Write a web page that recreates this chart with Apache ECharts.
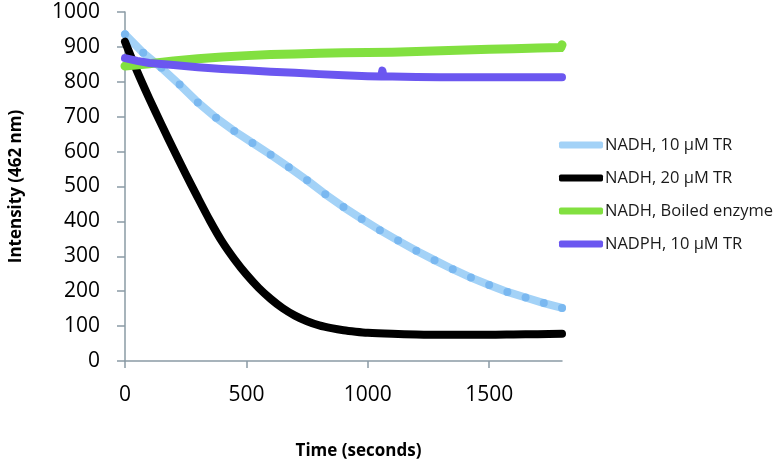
<!DOCTYPE html>
<html>
<head>
<meta charset="utf-8">
<script src="https://cdn.jsdelivr.net/npm/echarts@6/dist/echarts.min.js"></script>
<style>html,body{margin:0;padding:0;background:#fff}#c{width:784px;height:465px}</style>
</head>
<body>
<div id="c"></div>
<script>
// Series names
const seriesNames = ['NADH, 10 \u03bcM TR', 'NADH, 20 \u03bcM TR', 'NADH, Boiled enzyme', 'NADPH, 10 \u03bcM TR'];

// NADH, 10 uM TR (light blue) — time (s) and intensity
const tBlue = [0,75,150,225,300,375,450,525,600,675,750,825,900,975,1050,1125,1200,1275,1350,1425,1500,1575,1650,1725,1800];
const vBlue = [936,883,840,792,741,697,659,625,591,555,518,478,441,407,375,345,316,289,263,239,218,198,182,166,152];

// NADH, 20 uM TR (black)
const tBlack = [0,50,100,150,200,250,300,350,400,450,500,550,600,650,700,750,800,850,900,950,1000,1100,1200,1300,1400,1500,1600,1700,1800];
const vBlack = [915,830,752,678,606,536,468,402,342,292,248,210,178,151,130,114,102,94,88,84,81,78,76,75,75,75,76,77,78];

// NADH, Boiled enzyme (green)
const tGreen = [0,100,200,300,400,500,600,700,800,900,1000,1100,1200,1300,1400,1500,1600,1700,1795,1800];
const vGreen = [845,852,860,866,871,875,878,880,882,883,884,885,887,889,891,893,895,897,898,906];

// NADPH, 10 uM TR (purple)
const tPurple = [0,50,100,200,300,400,500,600,700,800,900,1000,1055,1060,1065,1100,1200,1300,1400,1500,1600,1700,1800];
const vPurple = [868,860,854,848,842,837,833,829,826,822,819,816,815,832,815,815,814,813,813,813,813,813,813];

// Axis ticks
const xTicks = [0, 500, 1000, 1500];

const colors = ['#A3D2F7', '#000000', '#82E040', '#6B57F0'];
const zip = (t, v) => t.map((x, i) => [x, v[i]]);

const chart = echarts.init(document.getElementById('c'), null, {renderer: 'canvas'});
const axisColor = '#8A9BA5';
chart.setOption({
  animation: false,
  backgroundColor: '#ffffff',
  textStyle: {fontFamily: 'Open Sans'},
  grid: {left: 124, right: 222, top: 12, bottom: 103, containLabel: false},
  xAxis: {
    type: 'value', min: 0, max: 1800, interval: 500,
    name: 'Time (seconds)', nameLocation: 'middle', nameGap: 82,
    nameTextStyle: {fontFamily: 'Open Sans', fontWeight: 'bold', fontSize: 17, color: '#000', padding: [0, 0, 0, 30]},
    axisLine: {show: true, lineStyle: {color: axisColor, width: 1.5}},
    axisTick: {show: true, length: 7, lineStyle: {color: axisColor, width: 1.5}, customValues: xTicks},
    axisLabel: {fontSize: 21, color: '#000', margin: 24, customValues: xTicks, fontFamily: 'Open Sans',
      formatter: v => String(v)},
    splitLine: {show: false}
  },
  yAxis: {
    type: 'value', min: 0, max: 1000, interval: 100,
    name: 'Intensity (462 nm)', nameLocation: 'middle', nameGap: 100, nameRotate: 90,
    nameTextStyle: {fontFamily: 'Open Sans', fontWeight: 'bold', fontSize: 17, color: '#000'},
    axisLine: {show: true, lineStyle: {color: axisColor, width: 1.5}},
    axisTick: {show: true, length: 8, lineStyle: {color: axisColor, width: 1.5}},
    axisLabel: {fontSize: 21, color: '#000', margin: 25, fontFamily: 'Open Sans', formatter: v => String(v)},
    splitLine: {show: false}
  },
  legend: {
    orient: 'vertical', left: 554, top: 131,
    icon: 'roundRect', itemWidth: 44, itemHeight: 7, itemGap: 15,
    textStyle: {fontSize: 16.5, color: '#1a1a1a', lineHeight: 18, fontFamily: 'Open Sans', padding: [0, 0, 0, -3]},
    data: seriesNames.map((n, i) => ({name: n, itemStyle: {color: colors[i]}}))
  },
  series: [
    {name: seriesNames[0], type: 'line', data: zip(tBlue, vBlue), showSymbol: true, symbol: 'circle', symbolSize: 8,
      itemStyle: {color: '#7AB8F0', borderWidth: 0}, lineStyle: {color: colors[0], width: 8, cap: 'round', join: 'round'}, z: 2},
    {name: seriesNames[1], type: 'line', data: zip(tBlack, vBlack), showSymbol: false, smooth: 0.25,
      itemStyle: {color: colors[1]}, lineStyle: {color: colors[1], width: 8, cap: 'round', join: 'round'}, z: 3},
    {name: seriesNames[2], type: 'line', data: zip(tGreen, vGreen), showSymbol: false,
      itemStyle: {color: colors[2]}, lineStyle: {color: colors[2], width: 9, cap: 'round', join: 'round'}, z: 4},
    {name: seriesNames[3], type: 'line', data: zip(tPurple, vPurple), showSymbol: false,
      itemStyle: {color: colors[3]}, lineStyle: {color: colors[3], width: 8, cap: 'round', join: 'round'}, z: 5}
  ]
});
</script>
</body>
</html>
